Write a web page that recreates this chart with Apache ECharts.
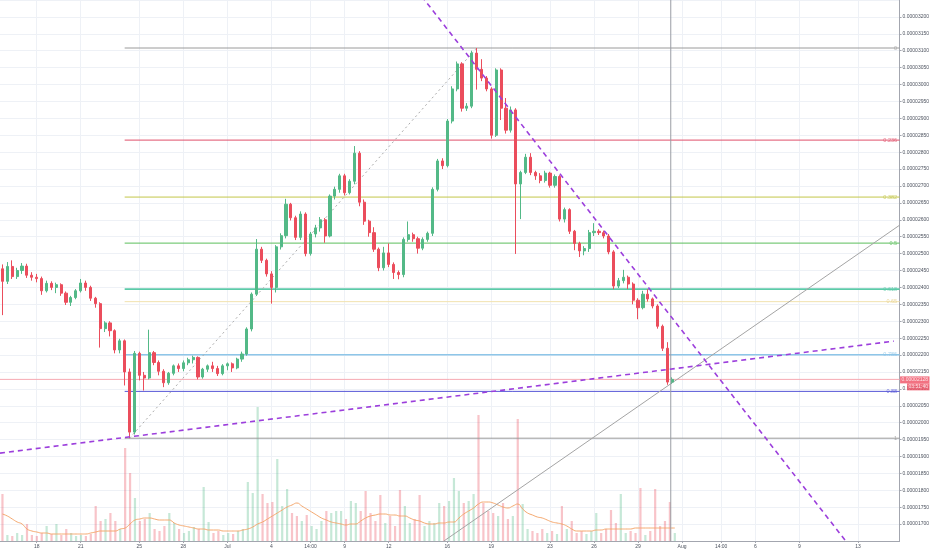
<!DOCTYPE html>
<html>
<head>
<meta charset="utf-8">
<script src="https://cdn.jsdelivr.net/npm/echarts@6/dist/echarts.min.js"></script>
<style>
  html, body { margin: 0; padding: 0; background: #fff; }
  #chart { width: 932px; height: 550px; }
</style>
</head>
<body>
<div id="chart"></div>
<script>
// prices in 1e-8 units, 8h candles starting 15 Jun 16:00 -> [open, close, low, high]
const candles = [
  [2455,2418,2318,2468],[2418,2462,2410,2475],[2462,2432,2425,2480],[2432,2450,2425,2458],[2450,2463,2440,2472],
  [2463,2436,2428,2470],[2436,2430,2420,2445],[2430,2426,2415,2440],[2426,2390,2378,2432],[2390,2412,2385,2420],
  [2412,2400,2392,2418],[2400,2408,2383,2414],[2408,2383,2375,2412],[2383,2356,2348,2388],[2356,2370,2345,2375],
  [2370,2390,2365,2395],[2390,2413,2385,2425],[2413,2400,2390,2420],[2400,2368,2360,2405],[2368,2352,2340,2372],
  [2352,2278,2222,2356],[2278,2295,2268,2300],[2295,2272,2255,2300],[2272,2215,2205,2276],[2215,2242,2205,2248],
  [2242,2150,2110,2246],[2150,1972,1954,2160],[1972,2205,1965,2212],[2205,2140,2125,2210],[2140,2132,2095,2150],
  [2132,2207,2128,2275],[2207,2178,2170,2212],[2178,2152,2140,2184],[2152,2118,2105,2158],[2118,2146,2112,2150],
  [2146,2168,2140,2172],[2168,2160,2150,2175],[2160,2177,2152,2184],[2177,2186,2170,2192],[2186,2193,2175,2198],
  [2193,2135,2128,2196],[2135,2158,2130,2162],[2158,2168,2150,2172],[2168,2160,2150,2180],[2160,2145,2138,2168],
  [2145,2168,2140,2173],[2168,2174,2155,2178],[2174,2162,2150,2178],[2162,2188,2158,2192],[2188,2203,2180,2210],
  [2203,2277,2198,2282],[2277,2380,2270,2385],[2380,2513,2375,2543],[2513,2480,2472,2520],[2480,2440,2432,2485],
  [2440,2400,2352,2448],[2400,2520,2385,2525],[2520,2553,2512,2560],[2553,2646,2545,2662],[2646,2606,2598,2650],
  [2606,2548,2540,2612],[2548,2617,2540,2625],[2617,2500,2492,2622],[2500,2558,2494,2564],[2558,2576,2548,2585],
  [2576,2600,2565,2608],[2600,2552,2532,2605],[2552,2670,2548,2675],[2670,2690,2660,2698],[2690,2730,2680,2736],
  [2730,2680,2672,2736],[2680,2714,2675,2720],[2714,2797,2705,2818],[2797,2652,2640,2803],[2652,2596,2585,2660],
  [2596,2562,2550,2600],[2562,2513,2505,2578],[2513,2458,2448,2518],[2458,2502,2450,2520],[2502,2468,2460,2530],
  [2468,2444,2425,2474],[2444,2438,2424,2450],[2438,2542,2430,2548],[2542,2556,2535,2595],[2556,2544,2535,2562],
  [2544,2516,2500,2550],[2516,2542,2510,2548],[2542,2560,2535,2565],[2560,2690,2552,2696],[2690,2774,2684,2780],
  [2774,2760,2750,2782],[2760,2892,2755,2898],[2892,2987,2885,2995],[2987,3061,2980,3068],[3061,2930,2920,3066],
  [2930,2936,2922,2945],[2936,3093,2930,3100],[3093,3045,2985,3108],[3045,3019,3010,3075],[3019,2987,2980,3025],
  [2987,2850,2840,2992],[2850,3043,2845,3048],[3043,2930,2895,3048],[2930,2865,2855,2960],[2865,2925,2858,2935],
  [2925,2706,2499,2930],[2706,2740,2602,2745],[2740,2785,2735,2795],[2785,2740,2732,2797],[2740,2730,2718,2745],
  [2730,2716,2708,2738],[2716,2738,2710,2745],[2738,2702,2695,2742],[2702,2728,2695,2734],[2728,2602,2595,2732],
  [2602,2630,2592,2636],[2630,2566,2558,2634],[2566,2530,2510,2570],[2530,2508,2490,2535],[2508,2515,2495,2522],
  [2515,2562,2505,2570],[2562,2566,2552,2590],[2566,2562,2555,2572],[2562,2552,2545,2568],[2552,2505,2498,2558],
  [2505,2404,2395,2510],[2404,2420,2398,2428],[2420,2430,2412,2452],[2430,2410,2395,2435],[2410,2362,2350,2415],
  [2362,2340,2306,2368],[2340,2380,2335,2390],[2380,2366,2358,2395],[2366,2345,2338,2370],[2345,2285,2278,2350],
  [2285,2220,2212,2290],[2220,2120,2112,2238],[2120,2128,2115,2134]
];

const volume = [
  47,6,5,8,6,17,6,5,8,15, 7,17,6,12,8,5,6,5,7,35,
  20,22,28,20,12,93,68,43,20,22, 28,12,10,15,28,18,12,8,10,14,
  12,54,19,8,10,6,8,7,10,12, 59,48,134,47,38,39,82,35,52,28,
  25,20,26,15,12,20,30,28,30,30, 22,40,38,30,50,28,20,46,18,25,
  15,51,35,18,22,46,15,20,18,38, 35,40,63,50,38,40,47,126,38,30,
  28,25,38,22,25,122,37,12,10,8, 12,8,10,7,35,12,20,8,10,7,
  10,28,8,12,31,18,47,8,10,8, 53,6,10,52,15,20,39,8
];

const volumeMA = [
  27,25,22,19,17,12,10,9,8,8, 7,7,7,7,7,7,7,7,8,9,
  10,10,10,10,12,13,17,21,22,23, 23,22,21,21,21,18,16,15,14,13,
  12,12,11,11,11,10,10,10,10,11, 12,14,17,19,22,25,28,31,34,36,
  38,35,32,29,26,23,21,19,18,17, 16,17,17,20,23,25,26,27,27,26,
  26,25,25,23,21,20,18,17,17,18, 18,19,19,23,27,30,33,37,39,39,
  38,36,34,33,35,37,32,28,26,24, 23,21,19,18,17,15,12,10,10,10,
  10,11,11,12,12,12,12,12,12,13, 13,13,13,13,13,13,13,13
];

const tickKeys = ['06-18 00','06-21 00','06-25 00','06-28 00','07-01 00','07-04 00','07-06 16','07-09 00','07-12 00',
  '07-16 00','07-19 00','07-23 00','07-26 00','07-29 00','08-01 00','08-03 16','08-06 00','08-09 00','08-13 00'];
const tickTexts = ['18','21','25','28','Jul','4','14:00','9','12','16','19','23','26','29','Aug','14:00','6','9','13'];

const fibRatios = [0, 0.236, 0.382, 0.5, 0.618, 0.65, 0.786, 0.88, 1];
const fibLabels = ['0', '0.236', '0.382', '0.5', '0.618', '0.65', '0.786', '0.88', '1'];
const fibColors = ['#9a9a9a', '#e0506a', '#c3c64a', '#5cbf5c', '#5ccaa8', '#f2e3b0', '#8ec6e8', '#5656d6', '#9a9a9a'];
const swingLow = 1954, swingHigh = 3108;
const lastPrice = 2128;
const countdown = '03:51:40';

// slot axis: 184 slots of 8 hours
const SLOTS = 184;
const base = Date.UTC(2018, 5, 15, 16);
const pad = n => String(n).padStart(2, '0');
const slotKeys = [];
for (let i = 0; i < SLOTS; i++) {
  const d = new Date(base + i * 8 * 3600e3);
  slotKeys.push(pad(d.getUTCMonth() + 1) + '-' + pad(d.getUTCDate()) + ' ' + pad(d.getUTCHours()));
}
const tickText = {};
tickKeys.forEach((k, i) => { tickText[k] = tickTexts[i]; });
const isTick = (idx, val) => tickText[val] !== undefined;

const up = '#53b987', down = '#eb4d5c';
const font = 'Liberation Sans';
const fmt = v => (v * 1e-8).toFixed(8);
const fibPrice = r => swingHigh - r * (swingHigh - swingLow);

const line = (pts, style, z) => ({
  type: 'line', xAxisIndex: 1, yAxisIndex: 0, data: pts, symbol: 'none',
  silent: true, clip: true, z: z || 2, lineStyle: style
});

const series = [];

series.push({
  type: 'bar', xAxisIndex: 2, yAxisIndex: 1, barWidth: '45%', silent: true, z: 1,
  data: volume.map((v, i) => ({
    value: v,
    itemStyle: { color: candles[i][1] >= candles[i][0] ? 'rgba(83,185,135,0.33)' : 'rgba(235,77,92,0.33)' }
  }))
});
series.push({
  type: 'line', xAxisIndex: 2, yAxisIndex: 1, data: volumeMA, symbol: 'none', smooth: true,
  silent: true, z: 1, lineStyle: { color: '#f5a86e', width: 1 }
});

fibRatios.forEach((r, i) => {
  const w = (r === 0.618 || r === 0.786) ? 1.6 : 1;
  series.push(line([[25.5, fibPrice(r)], [184, fibPrice(r)]], { color: fibColors[i], width: w }));
});

// last price line and crosshair
series.push(line([[0, lastPrice], [184, lastPrice]], { color: '#f6a9b2', width: 1 }));
series.push(line([[137.2, 1600], [137.2, 3300]], { color: '#9a9da4', width: 1 }, 4));

// drawings
series.push(line([[26.5, swingLow], [97.5, swingHigh]], { color: '#ababab', width: 1, type: [2, 3] }));
series.push(line([[90.7, 1649], [184, 2584]], { color: '#a4a4a4', width: 1 }));
series.push(line([[84, 3303], [176, 1594]], { color: '#9c3fdc', width: 1.6, type: [5, 4] }, 5));
series.push(line([[0, 1910], [182.8, 2241]], { color: '#9c3fdc', width: 1.6, type: [5, 4] }, 5));

series.push({
  type: 'candlestick', xAxisIndex: 0, yAxisIndex: 0, data: candles, barWidth: '55%', z: 3,
  itemStyle: { color: up, color0: down, borderColor: up, borderColor0: down, borderWidth: 1 }
});

// right-side labels
const labelData = fibRatios.map((r, i) => ({
  value: [184, fibPrice(r)],
  label: { show: true, position: 'left', distance: 2, formatter: fibLabels[i], color: fibColors[i] === '#f2e3b0' ? '#e6cf8a' : fibColors[i] }
}));
labelData.push({
  value: [184, lastPrice],
  label: {
    show: true, position: 'right', distance: 0, offset: [0, 4],
    formatter: '{p|' + fmt(lastPrice) + '}\n{t|' + countdown + '}',
    rich: {
      p: { backgroundColor: '#ef4f63', color: '#fff', fontSize: 5, fontFamily: font, padding: [1, 1.5, 1, 1.5], lineHeight: 7, align: 'left' },
      t: { backgroundColor: '#ef4f63', color: '#fff', fontSize: 5, fontFamily: font, padding: [1, 1.5, 1, 1.5], lineHeight: 7, align: 'right' }
    }
  }
});
series.push({
  type: 'scatter', xAxisIndex: 1, yAxisIndex: 0, symbolSize: 1, silent: true, z: 6,
  itemStyle: { color: 'rgba(0,0,0,0)' },
  label: { fontSize: 5.5, fontFamily: font },
  data: labelData
});

const chart = echarts.init(document.getElementById('chart'));
chart.setOption({
  animation: false,
  backgroundColor: '#ffffff',
  grid: [
    { left: 0, right: 29, top: 0, bottom: 9 },
    { left: 0, right: 29, top: 391, bottom: 9 }
  ],
  xAxis: [
    {
      type: 'category', gridIndex: 0, data: slotKeys, boundaryGap: true,
      axisLine: { onZero: false, lineStyle: { color: '#a3a6af' } },
      axisTick: { show: true, length: 2, interval: isTick, alignWithLabel: true, lineStyle: { color: '#a3a6af' } },
      axisLabel: { interval: isTick, formatter: v => tickText[v] || '', fontSize: 5, fontFamily: font, color: '#4c525e', margin: 3 },
      splitLine: { show: true, interval: isTick, alignWithLabel: true, lineStyle: { color: '#eef1f6', width: 1 } }
    },
    { type: 'value', gridIndex: 0, min: 0, max: 184, show: false },
    { type: 'category', gridIndex: 1, data: slotKeys, boundaryGap: true, show: false }
  ],
  yAxis: [
    {
      type: 'value', gridIndex: 0, position: 'right', min: 1650, max: 3250, interval: 50, scale: true,
      axisLine: { show: true, onZero: false, lineStyle: { color: '#a3a6af' } },
      axisTick: { show: true, length: 2, lineStyle: { color: '#a3a6af' } },
      axisLabel: { formatter: fmt, fontSize: 5, fontFamily: font, color: '#4c525e', margin: 3, showMinLabel: false, showMaxLabel: false },
      splitLine: { show: true, lineStyle: { color: '#eef1f6', width: 1 } }
    },
    { type: 'value', gridIndex: 1, min: 0, max: 150, show: false }
  ],
  series: series
});
</script>
</body>
</html>
